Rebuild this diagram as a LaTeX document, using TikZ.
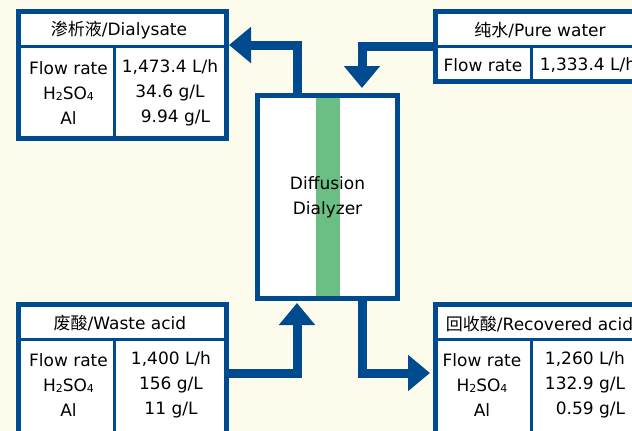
\documentclass[tikz,border=0pt]{standalone}
\usepackage{fontspec}
\setmainfont{DejaVu Sans}
\newfontfamily\cjk{Noto Sans CJK SC}
\usepackage{tikz}
\usetikzlibrary{arrows.meta, positioning}
\definecolor{lineblue}{HTML}{004A8F}
\definecolor{membrane}{HTML}{6CBF84}
\definecolor{paper}{HTML}{FDFBEB}
\tikzstyle{panel} = [rectangle, draw=lineblue, line width=5pt, fill=white, minimum width=208pt]
\tikzstyle{divider} = [draw=lineblue, line width=3pt]
\tikzstyle{flow} = [draw=lineblue, line width=9pt, -{Triangle[length=22pt, width=35pt]}]
\tikzstyle{cell} = [align=center, inner sep=0pt, font=\fontsize{17}{25}\selectfont]
\newcommand{\hso}{H\raisebox{-1pt}{\fontsize{11}{11}\selectfont 2}SO\raisebox{-1pt}{\fontsize{11}{11}\selectfont 4}}

\begin{document}
\begin{tikzpicture}[x=1pt, y=-1pt]
        \useasboundingbox (0,0) rectangle (632,431);
        \clip (0,0) rectangle (632,431);
        \fill[paper] (0,0) rectangle (632,431);

        \node[panel, minimum width=140pt, minimum height=203pt, cell,
              path picture={\fill[membrane] ([xshift=-11.5pt]path picture bounding box.north) rectangle ([xshift=12.5pt]path picture bounding box.south);}]
              (dialyzer) at (327.5,197) {Diffusion\\Dialyzer};
        \node[panel, minimum height=127pt] (dialysate) at (122.5,75) {};
        \node[panel, minimum height=70pt] (purewater) at (539.5,46.5) {};
        \node[panel, minimum height=137pt] (waste) at (122.5,373) {};
        \node[panel, minimum height=137pt] (recovered) at (539.5,373) {};

        \foreach \blk/\hy in {dialysate/29, purewater/0.5, waste/34, recovered/34} {
            \draw[divider] ([yshift=\hy pt]\blk.west) -- ([yshift=\hy pt]\blk.east);
            \draw[divider] ([xshift=-8.5pt, yshift=\hy pt]\blk.center) -- ([xshift=-8.5pt]\blk.south);
        }

        \node[cell] (dialysate-head) at (119,30) {{\cjk 渗析液}/Dialysate};
        \node[cell] (dialysate-keys) at (68.5,93) {Flow rate\\\hso\\Al};
        \node[cell] (dialysate-vals) at (170,93) {1,473.4 L/h\\34.6 g/L\\\hphantom{0}9.94 g/L};

        \node[cell] (purewater-head) at (540,30) {{\cjk 纯水}/Pure water};
        \node[cell] (purewater-keys) at (483,65) {Flow rate};
        \node[cell] (purewater-vals) at (588,65) {1,333.4 L/h};

        \node[cell] (waste-head) at (120,323) {{\cjk 废酸}/Waste acid};
        \node[cell] (waste-keys) at (68.5,385) {Flow rate\\\hso\\Al};
        \node[cell] (waste-vals) at (171,385) {1,400 L/h\\156 g/L\\11 g/L};

        \node[cell] (recovered-head) at (539.5,324) {{\cjk 回收酸}/Recovered acid};
        \node[cell] (recovered-keys) at (482,385) {Flow rate\\\hso\\Al};
        \node[cell] (recovered-vals) at (585,385) {1,260 L/h\\132.9 g/L\\\hphantom{0}0.59 g/L};

        \draw[flow] ([xshift=-30.5pt]dialyzer.north) |- ([yshift=30pt]dialysate.east);
        \draw[flow] (purewater.west) -| ([xshift=34.5pt, yshift=5pt]dialyzer.north);
        \draw[flow] (waste.east) -| ([xshift=-30.5pt, yshift=-2pt]dialyzer.south);
        \draw[flow] ([xshift=34.5pt]dialyzer.south) |- ([xshift=-3pt]recovered.west);
    \end{tikzpicture}
\end{document}
